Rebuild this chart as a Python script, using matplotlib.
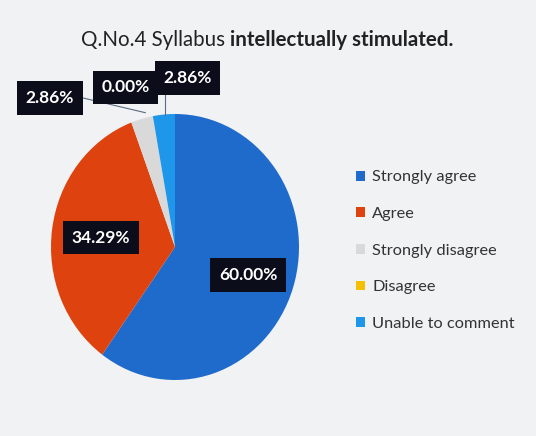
import numpy as np
import matplotlib.pyplot as plt

# Data
categories = ['Strongly agree', 'Agree', 'Strongly disagree', 'Disagree', 'Unable to comment']
shares = [60.00, 34.29, 2.86, 0.00, 2.86]
colors = ['#1F6BCB', '#DE420F', '#D9D9D9', '#F5C000', '#1E96EA']

# label spots (pie data coords, radius 1), hand placed like the original
label_pos = [(0.59, -0.21), (-0.60, 0.07), (-1.01, 1.12), (-0.40, 1.20), (0.10, 1.27)]

plt.rcParams['font.family'] = ['Lato', 'DejaVu Sans']

fig = plt.figure(figsize=(5.36, 4.36), dpi=100)
fig.patch.set_facecolor('#F1F2F4')

# pie axes - slightly stretched vertically like the photo
ax = fig.add_axes([51/536, 56/436, 248/536, 266/436])
ax.pie(shares, colors=colors, startangle=90, counterclock=False,
       wedgeprops=dict(linewidth=0))
ax.set_aspect('auto')
ax.set_xlim(-1, 1)
ax.set_ylim(-1, 1)
ax.axis('off')

# leader lines for the small slices
ax.plot([-0.74, -0.24], [1.12, 1.01], color='#5A6B80', lw=0.8, clip_on=False, zorder=3)
ax.plot([-0.08, -0.08], [1.15, 0.99], color='#5A6B80', lw=0.8, clip_on=False, zorder=3)

for val, (x, y) in zip(shares, label_pos):
    ax.text(x, y, '%.2f%%' % val, ha='center', va='center', color='white',
            fontsize=12.5, fontweight='bold', clip_on=False, zorder=5,
            bbox=dict(boxstyle='square,pad=0.5', fc='#0B0D1A', ec='none'))

# title, half regular half bold, centred as one line
t1 = fig.text(0, 0.908, 'Q.No.4 Syllabus ', ha='left', va='center', fontsize=14.8, color='#222222')
t2 = fig.text(0, 0.908, 'intellectually stimulated.', ha='left', va='center', fontsize=14.8,
              fontweight='bold', color='#222222')
fig.canvas.draw()
r = fig.canvas.get_renderer()
w1 = t1.get_window_extent(r).width / fig.bbox.width
w2 = t2.get_window_extent(r).width / fig.bbox.width
x0 = 267/536 - (w1 + w2) / 2
t1.set_x(x0)
t2.set_x(x0 + w1)

# legend
handles = [plt.Rectangle((0, 0), 1, 1, fc=c, ec='none') for c in colors]
leg = fig.legend(handles, categories, loc='upper left', bbox_to_anchor=(0.636, 0.643),
                 frameon=False, fontsize=11.8, handlelength=0.55, handleheight=0.55,
                 handletextpad=0.45, labelspacing=1.38, labelcolor='#333333')

fig.savefig('out.png', dpi=100, facecolor=fig.get_facecolor())
